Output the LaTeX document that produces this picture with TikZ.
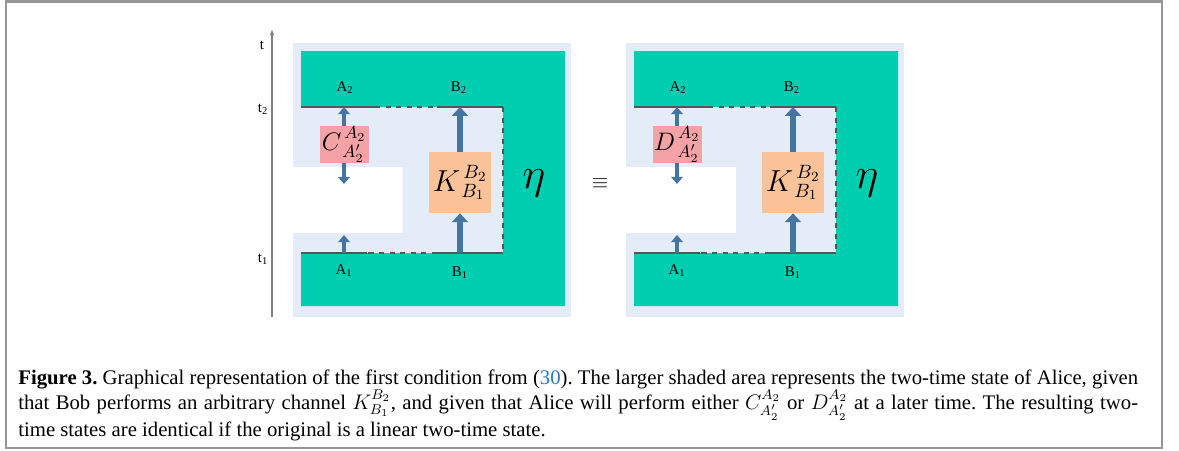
\documentclass[tikz,border=0pt]{standalone}
\usepackage{fontspec}
\setmainfont{Liberation Serif}
\usetikzlibrary{arrows.meta}

\definecolor{paneblue}{RGB}{227,236,247}
\definecolor{statecol}{RGB}{0,206,176}
\definecolor{oppink}{RGB}{245,162,166}
\definecolor{chpeach}{RGB}{249,194,153}
\definecolor{wireblue}{RGB}{70,116,160}
\definecolor{cutgray}{RGB}{85,85,85}
\definecolor{framegray}{RGB}{150,150,150}
\definecolor{citeblue}{RGB}{40,120,190}

\tikzset{
  lbl/.style={font=\fontsize{8.5}{10}\selectfont,inner sep=1pt},
  opbox/.style={fill=oppink,minimum width=0.98cm,minimum height=0.74cm,inner sep=0pt,font=\fontsize{14}{14}\selectfont},
  chbox/.style={fill=chpeach,minimum width=1.24cm,minimum height=1.22cm,inner sep=0pt,font=\fontsize{16}{16}\selectfont},
  thinwire/.style={draw=wireblue,line width=2.2pt,-{Triangle[width=6.5pt,length=4pt]}},
  thickwire/.style={draw=wireblue,line width=3.4pt,-{Triangle[width=9pt,length=5pt]}},
  cut/.style={draw=cutgray,line width=0.9pt}
}

\begin{document}
\begin{tikzpicture}[x=0.02cm,y=-0.02cm]
\useasboundingbox (0,0) rectangle (1179,450);
\draw[framegray,line width=1.2pt] (6,1.5) rectangle (1162,448);

% time axis
\coordinate (tbot) at (272,317);
\coordinate (ttop) at (272,30);
\draw[gray,line width=0.6pt,-{Stealth[length=3pt,width=2.5pt]}] (tbot) -- (ttop);
\node[lbl] (tlab) at (262,45) {t};
\node[lbl] (t2lab) at (263,109) {t\textsubscript{2}};
\node[lbl] (t1lab) at (263,259) {t\textsubscript{1}};

% the two panels
\foreach \dx/\op/\p in {0/C/l,333/D/r}{
\begin{scope}[shift={(\dx,0)}]
  \fill[paneblue] (293,43) rectangle (571,317);
  \fill[white] (293,167) rectangle (403,233);
  \fill[statecol] (301,51) -- (565,51) -- (565,306) -- (301,306) -- (301,253)
    -- (503,253) -- (503,107) -- (301,107) -- cycle;

  \coordinate (\p-tl) at (301,107);
  \coordinate (\p-ta) at (375,107);
  \coordinate (\p-tb) at (437,107);
  \coordinate (\p-tr) at (503,107);
  \coordinate (\p-bl) at (301,253);
  \coordinate (\p-ba) at (367,253);
  \coordinate (\p-bb) at (437,253);
  \coordinate (\p-br) at (503,253);
  \draw[cut] (\p-tl) -- (\p-ta);
  \draw[cut,dashed] (\p-ta) -- (\p-tb);
  \draw[cut] (\p-tb) -- (\p-tr);
  \draw[cut,dashed] (\p-tr) -- (\p-br);
  \draw[cut] (\p-br) -- (\p-bb);
  \draw[cut,dashed] (\p-bb) -- (\p-ba);
  \draw[cut] (\p-ba) -- (\p-bl);

  \node[opbox] (\p-op) at (344,144.5) {$\op^{\,A_2}_{\,A_2'}$};
  \node[chbox] (\p-ch) at (460,182.5) {$K^{\,B_2}_{\,B_1}$};

  \coordinate (\p-a2) at (344,107);
  \coordinate (\p-aout) at (344,184);
  \coordinate (\p-a1) at (344,253);
  \coordinate (\p-ain) at (344,235);
  \coordinate (\p-b2) at (460,107);
  \coordinate (\p-b1) at (460,253);
  \draw[thinwire] (\p-op.north) -- (\p-a2);
  \draw[thinwire] (\p-op.south) -- (\p-aout);
  \draw[thinwire] (\p-a1) -- (\p-ain);
  \draw[thickwire] (\p-ch.north) -- (\p-b2);
  \draw[thickwire] (\p-b1) -- (\p-ch.south);

  \node[lbl] (\p-A2) at (345,88) {A\textsubscript{2}};
  \node[lbl] (\p-B2) at (459,88) {B\textsubscript{2}};
  \node[lbl] (\p-A1) at (344,271) {A\textsubscript{1}};
  \node[lbl] (\p-B1) at (460,273) {B\textsubscript{1}};
  \node[font=\fontsize{26}{26}\selectfont] (\p-eta) at (534,183) {$\eta$};
\end{scope}
}
\node[font=\fontsize{13}{13}\selectfont] (equiv) at (600,184) {$\equiv$};

% caption
\node[anchor=base west,text width=22.4cm,align=justify,inner sep=0pt,
  font=\fontsize{11.8}{12.5}\selectfont\frenchspacing] (caption) at (18,384)
  {\textbf{Figure 3.} Graphical representation of the first condition from (\textcolor{citeblue}{30}). The larger shaded area represents the two-time state of Alice, given\linebreak
  that Bob performs an arbitrary channel $K_{B_1}^{B_2}$, and given that Alice will perform either $C_{A_2'}^{A_2}$ or $D_{A_2'}^{A_2}$ at a later time. The resulting two-\linebreak
  time states are identical if the original is a linear two-time state.};
\end{tikzpicture}
\end{document}
